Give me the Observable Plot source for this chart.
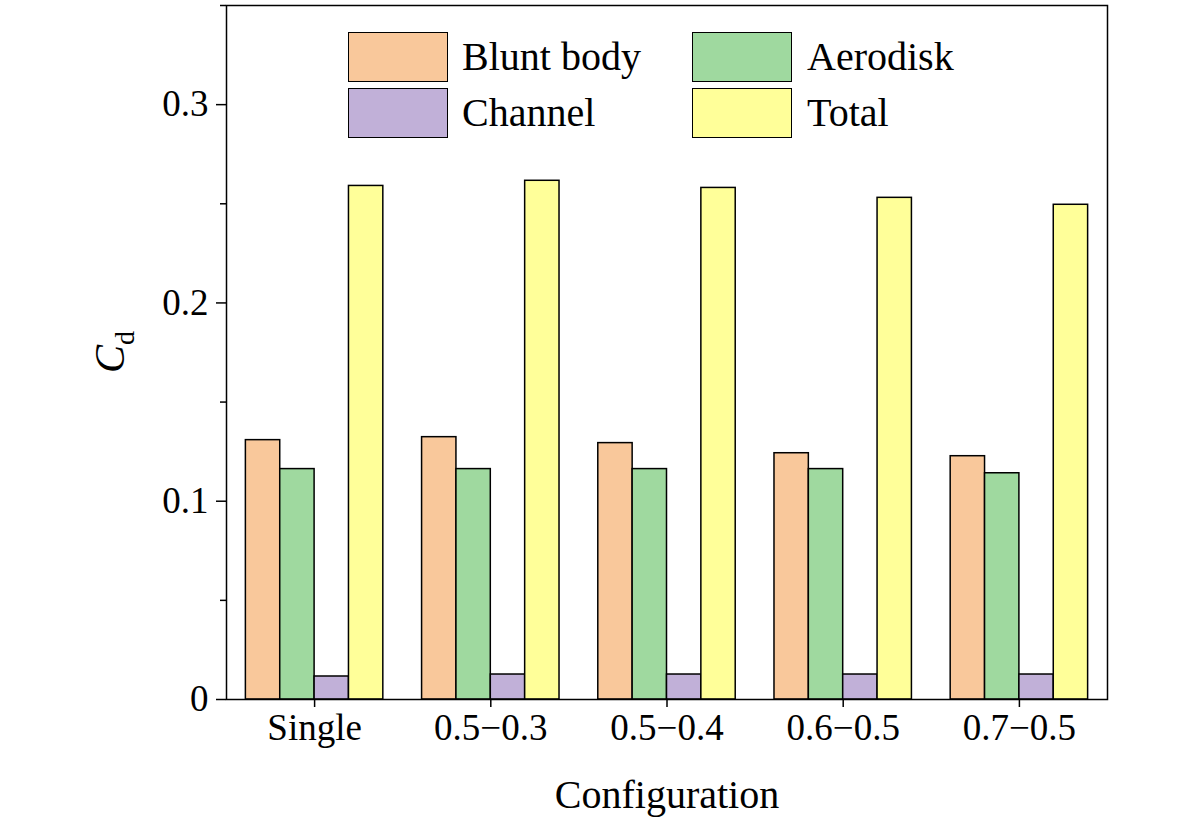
<!DOCTYPE html>
<html><head><meta charset="utf-8">
<script src="https://cdn.jsdelivr.net/npm/d3@7"></script>
<script src="https://cdn.jsdelivr.net/npm/@observablehq/plot@0.6"></script>
<style>
body{margin:0;background:#fff;font-family:"Liberation Serif",serif;}
#wrap{position:relative;width:1181px;height:831px;}
.leg{position:absolute;font-size:40px;color:#000;line-height:46px;}
.sw{position:absolute;border:1.5px solid #000;box-sizing:border-box;}
</style></head><body><div id="wrap"></div>
<script>
const categories = ["Single","0.5−0.3","0.5−0.4","0.6−0.5","0.7−0.5"];
const series = ["Blunt body","Aerodisk","Channel","Total"];
const colors = ["#F9C89B","#9FD99F","#C1B0D8","#FFFF99"];
const bluntBody = [0.1308,0.1323,0.1293,0.1242,0.1227];
const aerodisk = [0.1162,0.1162,0.1162,0.1162,0.1141];
const channel = [0.0116,0.0126,0.0126,0.0126,0.0126];
const total = [0.259,0.2616,0.258,0.253,0.2495];
const yTicks = [0,0.1,0.2,0.3];
const yTickLabels = ["0","0.1","0.2","0.3"];
const vals=[bluntBody,aerodisk,channel,total];
const data=[];
categories.forEach((c,i)=>series.forEach((s,j)=>data.push({i,j,s,v:vals[j][i]})));
const bw=0.195, off=0.11;
const plot=Plot.plot({
  width:1181,height:831,marginLeft:226,marginRight:74,marginTop:5,marginBottom:132,
  style:{fontFamily:"Liberation Serif",fontSize:"36px",color:"#000",overflow:"visible"},
  x:{type:"linear",domain:[0,5],axis:null},
  y:{domain:[0,0.35],axis:null},
  color:{domain:series,range:colors},
  marks:[
    Plot.rect(data,{x1:d=>d.i+off+d.j*bw,x2:d=>d.i+off+(d.j+1)*bw,y1:0,y2:"v",fill:"s",stroke:"#000",strokeWidth:1.5}),
    Plot.axisY({ticks:yTicks,tickFormat:(d,k)=>yTickLabels[k],tickSize:10,tickPadding:8,fontSize:37,strokeWidth:1.5,label:null}),
    Plot.axisY({ticks:[0.05,0.15,0.25,0.35],tickSize:6,tickFormat:()=>"",label:null,strokeWidth:1.5}),
    Plot.axisX({ticks:categories.map((c,i)=>i+0.5),tickFormat:(d)=>categories[Math.round(d-0.5)],tickSize:8,tickPadding:6,fontSize:37,label:null,strokeWidth:1.5}),
    Plot.frame({stroke:"#000",strokeWidth:1.5}),
    Plot.text(["Configuration"],{frameAnchor:"bottom",dy:108,fontSize:40})
  ]
});
const wrap=document.getElementById("wrap");
wrap.appendChild(plot);
const svg=d3.select(plot);
svg.append("text").attr("transform","translate(124,352) rotate(-90)").attr("text-anchor","middle")
  .attr("font-size",42).attr("font-family","Liberation Serif")
  .html('<tspan font-style="italic">C</tspan><tspan font-size="28" dy="10">d</tspan>');
const leg=[[348,32,462],[692,32,807],[348,88,462],[692,88,807]];
series.forEach((s,j)=>{
  const [x,y,tx]=leg[j];
  const d=document.createElement("div");d.className="sw";
  Object.assign(d.style,{left:x+"px",top:y+"px",width:"100px",height:"50px",background:colors[j]});
  wrap.appendChild(d);
  const t=document.createElement("div");t.className="leg";t.textContent=s;
  Object.assign(t.style,{left:tx+"px",top:(y+2)+"px"});
  wrap.appendChild(t);
});
</script></body></html>
